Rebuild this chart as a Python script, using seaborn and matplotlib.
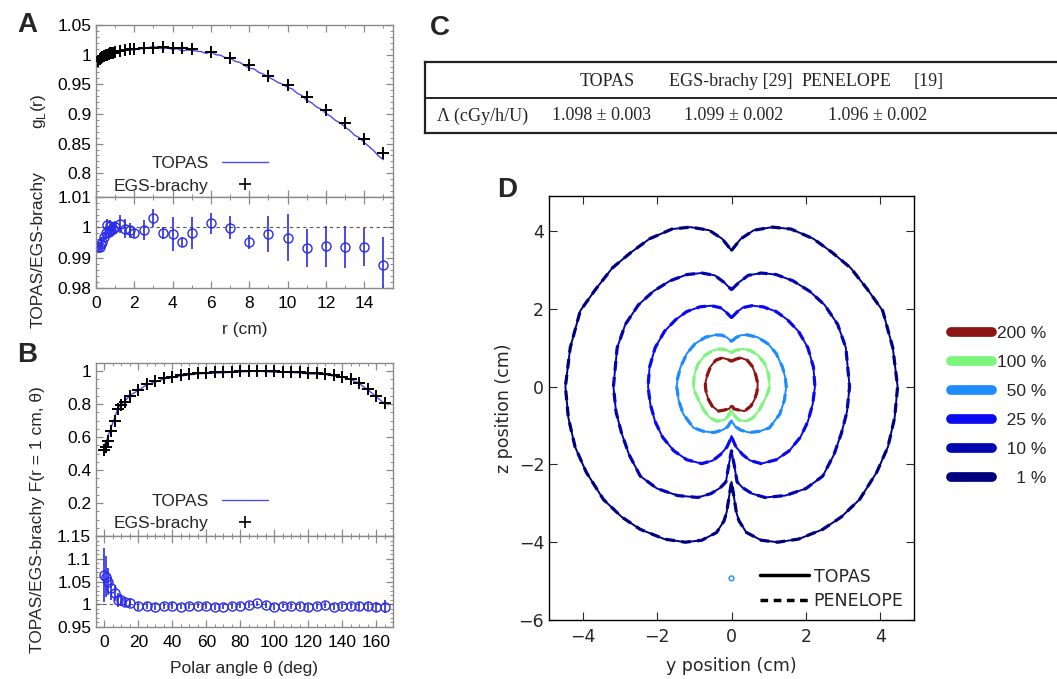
import matplotlib
matplotlib.use('Agg')
import matplotlib.pyplot as plt
from matplotlib.lines import Line2D
from matplotlib.ticker import MultipleLocator
import seaborn as sns
import numpy as np

# ---------------- Panel A : radial dose function ----------------
egs_r = [0.1, 0.2, 0.25, 0.3, 0.4, 0.5, 0.6, 0.7, 0.75, 0.8, 0.9, 1.0, 1.25, 1.5, 1.75, 2.0,
         2.5, 3.0, 3.5, 4.0, 4.5, 5.0, 6.0, 7.0, 8.0, 9.0, 10.0, 11.0, 12.0, 13.0, 14.0, 15.0]
egs_g = [0.989, 0.993, 0.995, 0.996, 0.998, 0.999, 1.000, 1.001, 1.002, 1.002, 1.003, 1.004,
         1.007, 1.008, 1.009, 1.010, 1.011, 1.012, 1.013, 1.012, 1.012, 1.009, 1.004, 0.994,
         0.982, 0.964, 0.949, 0.929, 0.907, 0.884, 0.858, 0.834]
ratio_a = [0.9935, 0.9935, 0.9945, 0.9952, 0.9968, 0.9980, 1.0008, 0.9985, 1.0003, 0.9992,
           0.9996, 1.0002, 1.0010, 0.9996, 0.9990, 0.9982, 0.9990, 1.0031, 0.9981, 0.9978,
           0.9952, 0.9981, 1.0013, 0.9999, 0.9952, 0.9978, 0.9966, 0.9932, 0.9937, 0.9935,
           0.9935, 0.9876]
ratio_a_err = [0.0015, 0.0012, 0.0015, 0.0015, 0.0015, 0.002, 0.002, 0.002, 0.002, 0.002,
               0.002, 0.002, 0.003, 0.003, 0.0025, 0.0017, 0.0033, 0.0029, 0.0021, 0.0057,
               0.0017, 0.0052, 0.0034, 0.0037, 0.0022, 0.006, 0.0078, 0.0062, 0.0069, 0.0069,
               0.0063, 0.0093]
topas_r = [0.1, 0.25, 0.5, 0.75, 1.0, 1.25, 1.5, 1.75, 2.0, 2.25, 2.5, 2.75, 3.0, 3.25, 3.5,
           3.75, 4.0, 4.25, 4.5, 4.75, 5.0, 5.25, 5.5, 5.75, 6.0, 6.25, 6.5, 6.75, 7.0, 7.25,
           7.5, 7.75, 8.0, 8.25, 8.5, 8.75, 9.0, 9.25, 9.5, 9.75, 10.0, 10.25, 10.5, 10.75,
           11.0, 11.25, 11.5, 11.75, 12.0, 12.25, 12.5, 12.75, 13.0, 13.25, 13.5, 13.75, 14.0,
           14.25, 14.5, 14.75, 15.0]
topas_g = [0.983, 0.990, 0.997, 1.002, 1.004, 1.008, 1.007, 1.008, 1.008, 1.010, 1.010, 1.012,
           1.014, 1.011, 1.010, 1.011, 1.009, 1.010, 1.006, 1.008, 1.007, 1.006, 1.005, 1.002,
           1.005, 1.000, 0.999, 0.995, 0.994, 0.989, 0.987, 0.982, 0.977, 0.976, 0.970, 0.967,
           0.962, 0.958, 0.953, 0.950, 0.945, 0.942, 0.935, 0.931, 0.923, 0.919, 0.912, 0.908,
           0.901, 0.896, 0.889, 0.885, 0.878, 0.872, 0.864, 0.860, 0.852, 0.845, 0.838, 0.829,
           0.823]

# ---------------- Panel B : anisotropy function ----------------
theta = [0, 1, 2, 4, 6, 8, 10, 12, 15, 20, 25, 30, 35, 40, 45, 50, 55, 60, 65, 70, 75, 80,
         85, 90, 95, 100, 105, 110, 115, 120, 125, 130, 135, 140, 145, 150, 155, 160, 165]
egs_F = [0.522, 0.538, 0.575, 0.638, 0.700, 0.770, 0.795, 0.815, 0.850, 0.888, 0.921, 0.940,
         0.957, 0.968, 0.976, 0.982, 0.987, 0.991, 0.994, 0.996, 0.998, 0.999, 1.000, 1.000,
         0.999, 1.000, 0.998, 0.996, 0.994, 0.991, 0.987, 0.982, 0.977, 0.968, 0.955, 0.930,
         0.893, 0.852, 0.808]
topas_F = [0.555, 0.570, 0.604, 0.660, 0.718, 0.777, 0.802, 0.819, 0.853, 0.884, 0.918, 0.935,
           0.953, 0.965, 0.971, 0.978, 0.984, 0.987, 0.988, 0.991, 0.994, 0.996, 0.998, 1.002,
           0.997, 0.994, 0.995, 0.992, 0.990, 0.984, 0.983, 0.980, 0.971, 0.964, 0.951, 0.926,
           0.889, 0.846, 0.804]
ratio_b = [1.064, 1.060, 1.050, 1.035, 1.025, 1.009, 1.009, 1.005, 1.003, 0.996, 0.997, 0.995,
           0.996, 0.997, 0.995, 0.996, 0.997, 0.996, 0.994, 0.995, 0.996, 0.997, 0.998, 1.002,
           0.998, 0.994, 0.997, 0.996, 0.996, 0.993, 0.996, 0.998, 0.994, 0.996, 0.996, 0.996,
           0.996, 0.993, 0.995]
ratio_b_err = [0.060, 0.045, 0.030, 0.025, 0.018, 0.015, 0.013, 0.012, 0.010, 0.008, 0.008,
               0.007, 0.007, 0.007, 0.006, 0.006, 0.006, 0.006, 0.006, 0.006, 0.006, 0.006,
               0.006, 0.006, 0.006, 0.006, 0.006, 0.006, 0.006, 0.007, 0.007, 0.007, 0.007,
               0.007, 0.007, 0.008, 0.008, 0.011, 0.014]

# ---------------- Panel C : table ----------------
table_head = ['TOPAS', 'EGS-brachy [29]', 'PENELOPE', '[19]']
table_row_label = 'Λ (cGy/h/U)'
table_vals = ['1.098 ± 0.003', '1.099 ± 0.002', '1.096 ± 0.002']

# ---------------- Panel D : isodose lines (right half, mirrored) ----------------
iso_labels = ['200 %', '100 %', '50 %', '25 %', '10 %', '1 %']
iso_colors = ['#8b1515', '#7df57d', '#1e8cff', '#0a0af0', '#0505b0', '#00007e']
iso200_y = [0, 0.1, 0.25, 0.42, 0.56, 0.65, 0.7, 0.7, 0.68, 0.62, 0.52, 0.35, 0.18, 0.06, 0.03, 0]
iso200_z = [0.65, 0.7, 0.74, 0.68, 0.52, 0.3, 0.1, 0, -0.15, -0.33, -0.5, -0.63, -0.6, -0.57, -0.52, -0.49]
iso100_y = [0, 0.1, 0.3, 0.5, 0.72, 0.9, 1.0, 1.02, 0.98, 0.89, 0.75, 0.58, 0.4, 0.2, 0.08, 0.03, 0]
iso100_z = [0.87, 0.93, 0.97, 0.93, 0.8, 0.58, 0.3, 0, -0.15, -0.33, -0.6, -0.8, -0.89, -0.86, -0.75, -0.66, -0.59]
iso50_y = [0, 0.12, 0.25, 0.42, 0.7, 0.98, 1.2, 1.37, 1.45, 1.47, 1.42, 1.3, 1.02, 0.75, 0.48, 0.25, 0.1, 0.05, 0]
iso50_z = [1.16, 1.26, 1.32, 1.33, 1.27, 1.1, 0.85, 0.5, 0.2, 0, -0.35, -0.7, -1.06, -1.15, -1.18, -1.12, -1.03, -0.95, -0.89]
iso25_y = [0, 0.15, 0.3, 0.55, 0.85, 1.2, 1.5, 1.8, 2.05, 2.2, 2.24, 2.18, 2.05, 1.85, 1.55, 1.2, 0.8, 0.5, 0.3, 0.12, 0.05, 0]
iso25_z = [1.77, 1.92, 2.03, 2.08, 2.05, 1.93, 1.72, 1.42, 1.0, 0.5, 0, -0.45, -0.9, -1.3, -1.65, -1.88, -1.98, -1.9, -1.75, -1.55, -1.4, -1.27]
iso10_y = [0, 0.2, 0.45, 0.8, 1.2, 1.65, 2.1, 2.5, 2.85, 3.07, 3.17, 3.1, 2.95, 2.75, 2.45, 2.0, 1.45, 0.9, 0.55, 0.3, 0.15, 0.07, 0]
iso10_z = [2.49, 2.68, 2.86, 2.92, 2.88, 2.72, 2.45, 2.1, 1.6, 1.0, 0, -0.65, -1.2, -1.75, -2.3, -2.62, -2.8, -2.85, -2.75, -2.6, -2.45, -2.0, -1.65]
iso1_y = [0, 0.25, 0.6, 1.1, 1.6, 2.2, 2.7, 3.2, 3.65, 4.06, 4.33, 4.46, 4.38, 4.2, 3.9, 3.44,
          2.95, 2.45, 1.8, 1.24, 0.8, 0.4, 0.2, 0.13, 0.06, 0]
iso1_z = [3.5, 3.8, 4.02, 4.1, 4.05, 3.8, 3.45, 3.05, 2.5, 1.95, 1.0, 0, -0.8, -1.55, -2.2, -2.9,
          -3.35, -3.67, -3.92, -4.0, -3.95, -3.75, -3.45, -3.23, -2.8, -2.45]
stray_y = [0.0]
stray_z = [-4.93]

W, H = 1057, 679
sns.set_style('ticks')
plt.rcParams['font.family'] = ['Liberation Sans', 'DejaVu Sans']
plt.rcParams['mathtext.fontset'] = 'custom'
plt.rcParams['mathtext.rm'] = 'Liberation Sans'

fig = plt.figure(figsize=(W / 100, H / 100), dpi=100)


def px_axes(l, t, r, b):
    return fig.add_axes([l / W, 1 - b / H, (r - l) / W, (b - t) / H])


def gp_style(ax):
    for s in ax.spines.values():
        s.set_color('#8a8a8a')
        s.set_linewidth(1.0)
    ax.tick_params(which='both', direction='in', top=True, right=True,
                   color='#8a8a8a', labelcolor='black', labelsize=12.5)
    ax.tick_params(which='major', length=5, width=0.9)
    ax.tick_params(which='minor', length=2.5, width=0.7)
    ax.tick_params(axis='x', pad=6)


line_blue = '#4a4af0'
circ_blue = '#2b2bea'

# ---- A top
axA = px_axes(96, 25, 393, 197)
gp_style(axA)
sns.lineplot(x=topas_r, y=topas_g, ax=axA, color=line_blue, lw=1.0, legend=False)
sns.scatterplot(x=egs_r, y=egs_g, ax=axA, marker='+', color='black', s=70, linewidth=1.4, zorder=3)
axA.set_xlim(0, 15.5)
axA.set_ylim(0.76, 1.05)
axA.set_yticks([0.8, 0.85, 0.9, 0.95, 1.0, 1.05], labels=['0.8', '0.85', '0.9', '0.95', '1', '1.05'])
axA.yaxis.set_minor_locator(MultipleLocator(0.01))
axA.xaxis.set_major_locator(MultipleLocator(2))
axA.xaxis.set_minor_locator(MultipleLocator(1))
axA.tick_params(labelbottom=False)
axA.set_xlabel('')
h_topas = Line2D([], [], color=line_blue, lw=1.0)
h_egs = Line2D([], [], color='black', marker='+', ls='none', ms=8, mew=1.2)
axA.legend([h_topas, h_egs], ['TOPAS', 'EGS-brachy'], loc='lower left', bbox_to_anchor=(0.06, 0.02),
           markerfirst=False, frameon=False, fontsize=12.5, handlelength=2.6, handletextpad=0.8,
           labelspacing=0.4, borderpad=0, borderaxespad=0)

# ---- A bottom (ratio)
axA2 = px_axes(96, 197, 393, 288)
gp_style(axA2)
axA2.axhline(1.0, color='#555555', lw=0.8, ls=(0, (3, 3)))
axA2.errorbar(egs_r, ratio_a, yerr=ratio_a_err, fmt='o', ms=6.5, mfc='none', mec=circ_blue,
              mew=1.0, ecolor=circ_blue, elinewidth=1.2, capsize=0)
axA2.set_xlim(0, 15.5)
axA2.set_ylim(0.98, 1.01)
axA2.set_yticks([0.98, 0.99, 1.0, 1.01], labels=['0.98', '0.99', '1', '1.01'])
axA2.yaxis.set_minor_locator(MultipleLocator(0.002))
axA2.xaxis.set_major_locator(MultipleLocator(2))
axA2.xaxis.set_minor_locator(MultipleLocator(1))
axA2.set_xlabel('r (cm)', fontsize=12.5, labelpad=8)

# ---- B top
axB = px_axes(96, 363, 393, 536)
gp_style(axB)
sns.lineplot(x=theta, y=topas_F, ax=axB, color=line_blue, lw=1.0, legend=False)
sns.scatterplot(x=theta, y=egs_F, ax=axB, marker='+', color='black', s=70, linewidth=1.4, zorder=3)
axB.set_xlim(-5, 170)
axB.set_ylim(0, 1.05)
axB.set_yticks([0.2, 0.4, 0.6, 0.8, 1.0], labels=['0.2', '0.4', '0.6', '0.8', '1'])
axB.yaxis.set_minor_locator(MultipleLocator(0.05))
axB.xaxis.set_major_locator(MultipleLocator(20))
axB.xaxis.set_minor_locator(MultipleLocator(5))
axB.tick_params(labelbottom=False)
axB.legend([h_topas, h_egs], ['TOPAS', 'EGS-brachy'], loc='lower left', bbox_to_anchor=(0.06, 0.03),
           markerfirst=False, frameon=False, fontsize=12.5, handlelength=2.6, handletextpad=0.8,
           labelspacing=0.4, borderpad=0, borderaxespad=0)

# ---- B bottom (ratio)
axB2 = px_axes(96, 536, 393, 627)
gp_style(axB2)
axB2.axhline(1.0, color='#555555', lw=0.8, ls=(0, (3, 3)))
axB2.errorbar(theta, ratio_b, yerr=ratio_b_err, fmt='o', ms=6.5, mfc='none', mec=circ_blue,
              mew=1.0, ecolor=circ_blue, elinewidth=1.2, capsize=0)
axB2.set_xlim(-5, 170)
axB2.set_ylim(0.95, 1.15)
axB2.set_yticks([0.95, 1.0, 1.05, 1.1, 1.15], labels=['0.95', '1', '1.05', '1.1', '1.15'])
axB2.yaxis.set_minor_locator(MultipleLocator(0.01))
axB2.xaxis.set_major_locator(MultipleLocator(20))
axB2.xaxis.set_minor_locator(MultipleLocator(5))
axB2.set_xlabel('Polar angle θ (deg)', fontsize=12.5, labelpad=8)

# y labels of A and B
fig.text(38 / W, 1 - 111 / H, 'g$_\\mathregular{L}$(r)', rotation=90, ha='center', va='center', fontsize=12.5)
fig.text(38 / W, 1 - 250 / H, 'TOPAS/EGS-brachy', rotation=90, ha='center', va='center', fontsize=12.5)
fig.text(38 / W, 1 - 520 / H, 'TOPAS/EGS-brachy F(r = 1 cm, θ)', rotation=90, ha='center',
         va='center', fontsize=12.5)

# ---- C table
axC = px_axes(425, 62, 1064, 133)
axC.set_xlim(0, 1)
axC.set_ylim(0, 1)
axC.set_xticks([])
axC.set_yticks([])
for s in axC.spines.values():
    s.set_color('#222222')
    s.set_linewidth(1.6)
axC.axhline(0.49, color='#222222', lw=1.4)
serif = ['Liberation Serif', 'DejaVu Serif']
head_x = [0.285, 0.479, 0.66, 0.788]
for xx, txt in zip(head_x, table_head):
    axC.text(xx, 0.73, txt, ha='center', va='center', fontsize=13, family=serif)
axC.text(0.09, 0.24, table_row_label, ha='center', va='center', fontsize=13, family=serif)
val_x = [0.277, 0.483, 0.709]
for xx, txt in zip(val_x, table_vals):
    axC.text(xx, 0.24, txt, ha='center', va='center', fontsize=13, family=serif)

# ---- D isodose contours
axD = px_axes(549, 196, 914, 620)
iso_sets = [(iso200_y, iso200_z), (iso100_y, iso100_z), (iso50_y, iso50_z),
            (iso25_y, iso25_z), (iso10_y, iso10_z), (iso1_y, iso1_z)]
for (yy, zz), col in zip(iso_sets, iso_colors):
    yy = np.asarray(yy, dtype=float)
    zz = np.asarray(zz, dtype=float)
    yfull = np.concatenate([yy, -yy[::-1]])
    zfull = np.concatenate([zz, zz[::-1]])
    sns.lineplot(x=yfull, y=zfull, ax=axD, sort=False, estimator=None, color=col,
                 lw=2.3, linestyle=(0, (3, 2)), legend=False)
    sns.lineplot(x=yfull, y=zfull, ax=axD, sort=False, estimator=None, color=col,
                 lw=1.4, legend=False)
sns.scatterplot(x=stray_y, y=stray_z, ax=axD, marker='o', s=12, facecolor='none',
                edgecolor='#1e8cff', linewidth=1.0, legend=False)
axD.set_xlim(-4.9, 4.9)
axD.set_ylim(-6, 4.9)
axD.set_xticks([-4, -2, 0, 2, 4])
axD.set_yticks([-6, -4, -2, 0, 2, 4])
for s in axD.spines.values():
    s.set_color('black')
    s.set_linewidth(1.0)
axD.tick_params(direction='in', top=True, right=True, length=6, width=0.8, labelsize=12.5)
axD.tick_params(axis='x', pad=6)
for lbl in axD.get_xticklabels() + axD.get_yticklabels():
    lbl.set_fontfamily('DejaVu Sans')
axD.set_xlabel('y position (cm)', fontsize=12.5, family='DejaVu Sans', labelpad=8)
axD.set_ylabel('z position (cm)', fontsize=12.5, family='DejaVu Sans', labelpad=4)
hd = [Line2D([], [], color='black', lw=2.5),
      Line2D([], [], color='black', lw=2.5, ls=(0, (2.2, 1.6)))]
axD.legend(hd, ['TOPAS', 'PENELOPE'], loc='lower right', frameon=False,
           prop={'family': 'DejaVu Sans', 'size': 12.5}, handlelength=2.8, handletextpad=0.3,
           labelspacing=0.35, borderaxespad=0.2)

# level legend on the right
fsp = '\u2007'
lev_labels = ['200 %', '100 %', fsp + '50 %', fsp + '25 %', fsp + '10 %', fsp + fsp + '1 %']
lev_handles = [Line2D([], [], color=c, lw=7, solid_capstyle='round') for c in iso_colors]
fig.legend(lev_handles, lev_labels, loc='center left', bbox_to_anchor=(942 / W, 1 - 406 / H),
           frameon=False, prop={'family': ['Liberation Sans', 'DejaVu Sans'], 'size': 12.5},
           handlelength=2.4, handletextpad=0.25, labelspacing=0.8, borderpad=0)

# panel letters
for (lx, ly, letter) in [(27, 25, 'A'), (27, 355, 'B'), (440, 28, 'C'), (507, 190, 'D')]:
    fig.text(lx / W, 1 - ly / H, letter, ha='center', va='center', fontsize=20, fontweight='bold')

fig.savefig('out.png', dpi=100)
